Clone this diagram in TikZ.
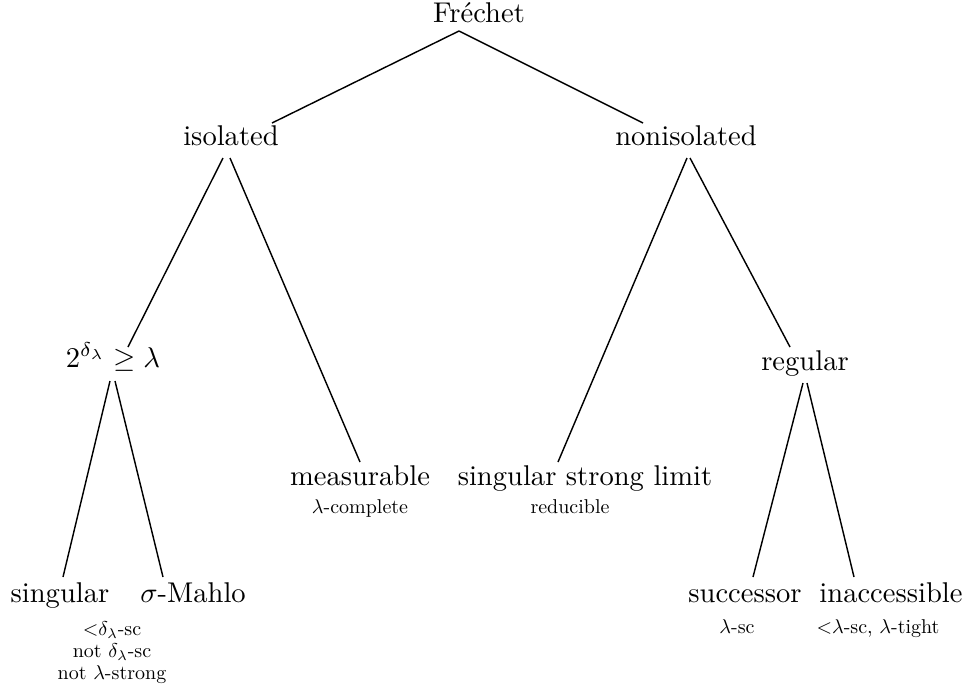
\documentclass[tikz,border=0pt]{standalone}
\usepackage{amssymb}
\usetikzlibrary{calc}

\begin{document}
\begin{tikzpicture}[x=0.35pt,y=-0.35pt]

        \tikzset{card/.style = {anchor=base, inner sep=0pt}, }
        \tikzset{note/.style = {anchor=base, inner sep=0pt, align=center, font=\fontsize{10}{11}\selectfont, scale=0.7, transform shape}, }
        \tikzset{branch/.style = {line width=0.5pt} }

        \useasboundingbox (0,0) rectangle (967,692);

        \node[card] (frechet) at (479,22) {Fr\'echet};
        \node[card] (isolated) at (231,145) {isolated};
        \node[card] (nonisolated) at (686,145) {nonisolated};
        \node[card] (pow) at (113,367) {$2^{\delta_\lambda}\geq\lambda$};
        \node[card] (regular) at (805,370) {regular};
        \node[card] (measurable) at (360,485) {measurable};
        \node[note] (complete) at (360,513) {$\lambda$-complete};
        \node[card] (ssl) at (585,485) {singular strong limit};
        \node[note] (reducible) at (570,513) {reducible};
        \node[card] (singular) at (60,602) {singular};
        \node[card] (mahlo) at (193,602) {$\sigma$-Mahlo};
        % base of a multi-line note is its last line
        \node[note] (singnote) at (112,679) {${<}\delta_\lambda$-sc\\ not $\delta_\lambda$-sc\\ not $\lambda$-strong};
        \node[card] (successor) at (745,602) {successor};
        \node[note] (sucnote) at (737,633) {$\lambda$-sc};
        \node[card] (inaccessible) at (891,602) {inaccessible};
        \node[note] (inacnote) at (878,633) {${<}\lambda$-sc, $\lambda$-tight};

        % edges from parent to child
        \draw[branch] ($(frechet.base)+(-20,9)$) -- ($(isolated.base)+(41,-22)$);
        \draw[branch] ($(frechet.base)+(-20,9)$) -- ($(nonisolated.base)+(-43,-22)$);
        \draw[branch] ($(isolated.base)+(-8,13)$) -- ($(pow.base)+(15,-20)$);
        \draw[branch] ($(isolated.base)+(-1,13)$) -- ($(measurable.base)+(0,-23)$);
        \draw[branch] ($(nonisolated.base)+(1,13)$) -- ($(ssl.base)+(-27,-23)$);
        \draw[branch] ($(nonisolated.base)+(4,13)$) -- ($(regular.base)+(-15,-23)$);
        \draw[branch] ($(pow.base)+(-3,14)$) -- ($(singular.base)+(3,-25)$);
        \draw[branch] ($(pow.base)+(2,14)$) -- ($(mahlo.base)+(-30,-25)$);
        \draw[branch] ($(regular.base)+(-2,13)$) -- ($(successor.base)+(8,-25)$);
        \draw[branch] ($(regular.base)+(2,13)$) -- ($(inaccessible.base)+(-37,-25)$);

\end{tikzpicture}
\end{document}
